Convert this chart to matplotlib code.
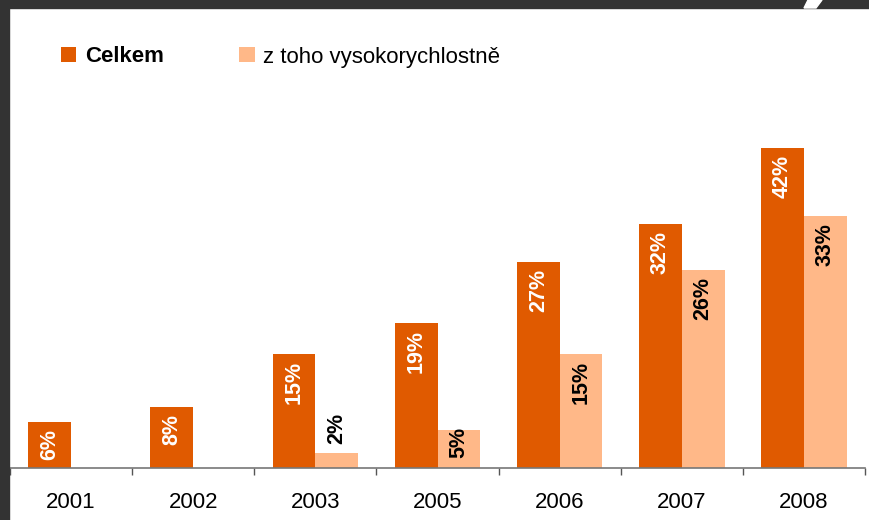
import matplotlib
matplotlib.use("Agg")
import matplotlib.pyplot as plt
from matplotlib.patches import Rectangle, Polygon
import numpy as np

plt.rcParams['font.family'] = ['Liberation Sans', 'DejaVu Sans']

years = ["2001", "2002", "2003", "2005", "2006", "2007", "2008"]
celkem = [6, 8, 15, 19, 27, 32, 42]
vysoko = [None, None, 2, 5, 15, 26, 33]
series_names = ["Celkem", "z toho vysokorychlostně"]

c_dark = "#E05A00"
c_light = "#FFB888"
frame = "#333333"

fig = plt.figure(figsize=(8.69, 5.20), dpi=100)
ax = fig.add_axes([10/869, 1-468/520, 855/869, (468-130)/520])

x = np.arange(len(years))
w = 0.35
v2 = [np.nan if v is None else v for v in vysoko]
b1 = ax.bar(x - w/2, celkem, w, color=c_dark, label=series_names[0])
b2 = ax.bar(x + w/2, v2, w, color=c_light, label=series_names[1])

lab = dict(rotation=90, ha="center", fontsize=15.5, fontweight="bold", textcoords="offset points")
for xi, v in zip(x, celkem):
    ax.annotate(f"{v}%", (xi - w/2, v), xytext=(0, -5), va="top", color="white", **lab)
for xi, v in zip(x, vysoko):
    if v is None:
        continue
    if v < 4:
        ax.annotate(f"{v}%", (xi + w/2, v), xytext=(0, 6), va="bottom", color="black", **lab)
    elif v <= 5:
        ax.annotate(f"{v}%", (xi + w/2, v), xytext=(0, 2), va="top", color="black", **lab)
    else:
        ax.annotate(f"{v}%", (xi + w/2, v), xytext=(0, -5), va="top", color="black", **lab)

ax.set_xlim(-0.5, len(years) - 0.5)
ax.set_ylim(0, 338/7.63)
ax.set_xticks(x)
ax.set_xticklabels(years, fontsize=16)
ax.tick_params(axis="x", which="major", length=0, pad=17)
ax.set_xticks(np.arange(len(years) + 1) - 0.5, minor=True)
ax.tick_params(axis="x", which="minor", length=5, width=1, color="#555555", direction="out")
ax.set_yticks([])
for s in ["top", "right", "left"]:
    ax.spines[s].set_visible(False)
ax.spines["bottom"].set_color("#777777")
ax.spines["bottom"].set_linewidth(1.2)

leg = fig.legend(handles=[b1, b2], loc="center left", bbox_to_anchor=(61/869, 1-57/520),
                 ncol=2, frameon=False, fontsize=16, handlelength=0.68, handleheight=0.65,
                 handletextpad=0.4, columnspacing=3.4, borderaxespad=0, borderpad=0)
leg.get_texts()[0].set_fontweight("bold")

# dark frame around slide
fig.patches.append(Rectangle((0, 1-8/520), 1, 8/520, transform=fig.transFigure, color=frame, zorder=5))
fig.patches.append(Rectangle((0, 0), 9/869, 1, transform=fig.transFigure, color=frame, zorder=5))
fig.patches.append(Polygon([(808/869, 1), (822/869, 1), (816/869, 1-8/520), (804/869, 1-8/520)],
                           closed=True, transform=fig.transFigure, color="white", zorder=6))

fig.savefig("out.png", dpi=100)
